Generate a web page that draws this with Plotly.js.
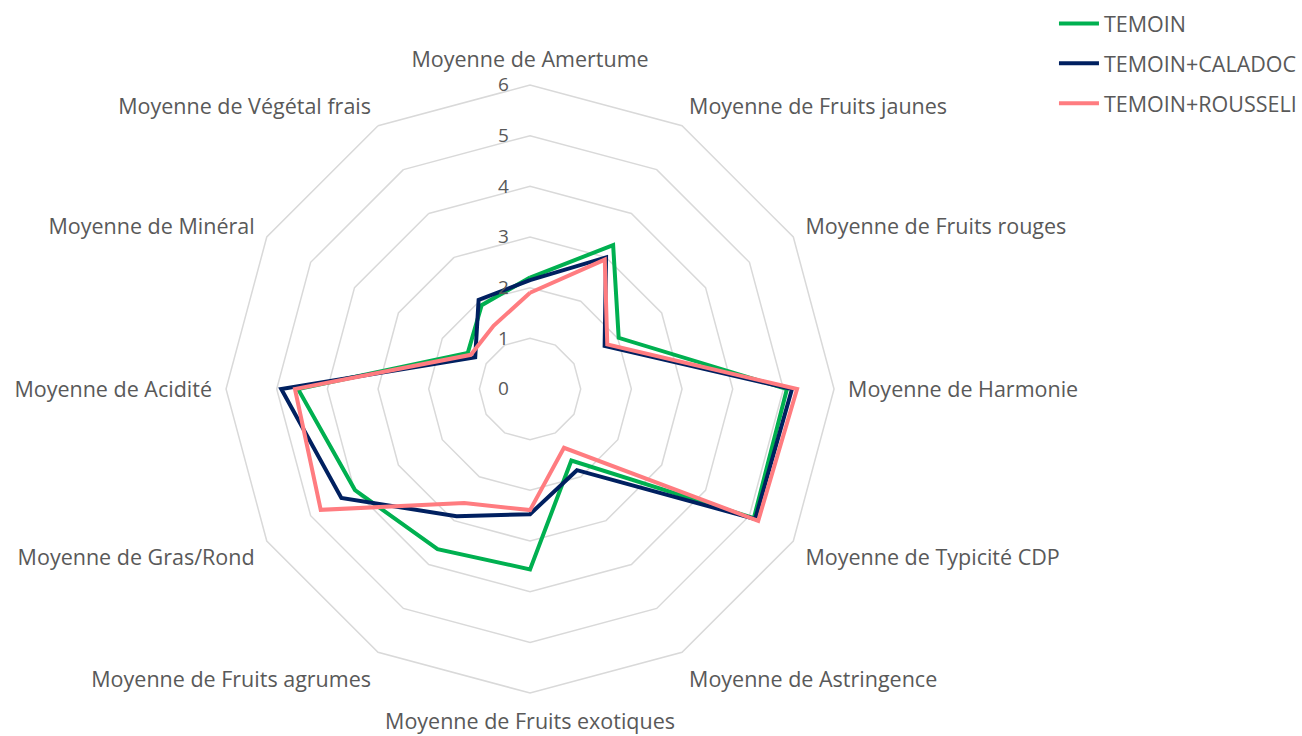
<!DOCTYPE html>
<html>
<head>
<meta charset="utf-8">
<script src="https://cdn.plot.ly/plotly-3.0.1.min.js"></script>
<style>html,body{margin:0;padding:0;background:#fff;}#chart{width:1302px;height:736px;}</style>
</head>
<body>
<div id="chart"></div>
<script>
const categories = [
  "Moyenne de Amertume",
  "Moyenne de Fruits jaunes",
  "Moyenne de Fruits rouges",
  "Moyenne de Harmonie",
  "Moyenne de Typicité CDP",
  "Moyenne de Astringence",
  "Moyenne de Fruits exotiques",
  "Moyenne de Fruits agrumes",
  "Moyenne de Gras/Rond",
  "Moyenne de Acidité",
  "Moyenne de Minéral",
  "Moyenne de Végétal frais"
];
const temoin   = [2.2, 3.28, 2.02, 5.07, 5.10, 1.63, 3.56, 3.65, 3.99, 4.58, 1.42, 1.91];
const caladoc  = [2.15, 3.0, 1.70, 5.17, 5.13, 1.85, 2.47, 2.90, 4.30, 4.91, 1.25, 2.03];
const rousseli = [1.90, 2.95, 1.76, 5.27, 5.20, 1.34, 2.39, 2.60, 4.77, 4.64, 1.35, 1.44];
const seriesNames = ["TEMOIN", "TEMOIN+CALADOC", "TEMOIN+ROUSSELI"];
const radialTicks = [0, 1, 2, 3, 4, 5, 6];

const colors = ["#00b050", "#002060", "#ff7c80"];
const allSeries = [temoin, caladoc, rousseli];

const traces = allSeries.map((vals, i) => ({
  type: "scatterpolar",
  mode: "lines",
  name: seriesNames[i],
  legendgroup: "g" + i,
  r: vals.concat([vals[0]]),
  theta: categories.concat([categories[0]]),
  line: {color: colors[i], width: 4},
  hoverinfo: "skip"
}));

const layout = {
  width: 1302,
  height: 736,
  margin: {l: 0, r: 0, t: 0, b: 0},
  paper_bgcolor: "#ffffff",
  showlegend: true,
  font: {family: "Open Sans, Liberation Sans, sans-serif", color: "#595959", size: 18},
  legend: {
    x: 0.8095, y: 0.996, xanchor: "left", yanchor: "top",
    font: {size: 21.5, color: "#595959"},
    itemwidth: 40,
    tracegroupgap: 9,
    bgcolor: "rgba(0,0,0,0)"
  },
  polar: {
    domain: {x: [0.1736, 0.6406], y: [0.0584, 0.8845]},
    bgcolor: "#ffffff",
    gridshape: "linear",
    angularaxis: {
      rotation: 90,
      direction: "clockwise",
      showgrid: false,
      showline: true,
      linecolor: "#d9d9d9",
      linewidth: 1.5,
      ticks: "outside",
      ticklen: 9,
      tickcolor: "rgba(0,0,0,0)",
      tickfont: {size: 21.5, color: "#595959"}
    },
    radialaxis: {
      range: [0, 6],
      tickvals: radialTicks,
      ticktext: radialTicks.map(String),
      angle: 90,
      tickangle: 90,
      side: "counterclockwise",
      showline: false,
      ticks: "outside",
      ticklen: 14,
      tickcolor: "rgba(0,0,0,0)",
      gridcolor: "#d9d9d9",
      gridwidth: 1.5,
      tickfont: {size: 19, color: "#595959"}
    }
  }
};

Plotly.newPlot("chart", traces, layout, {displayModeBar: false, staticPlot: true});
</script>
</body>
</html>
